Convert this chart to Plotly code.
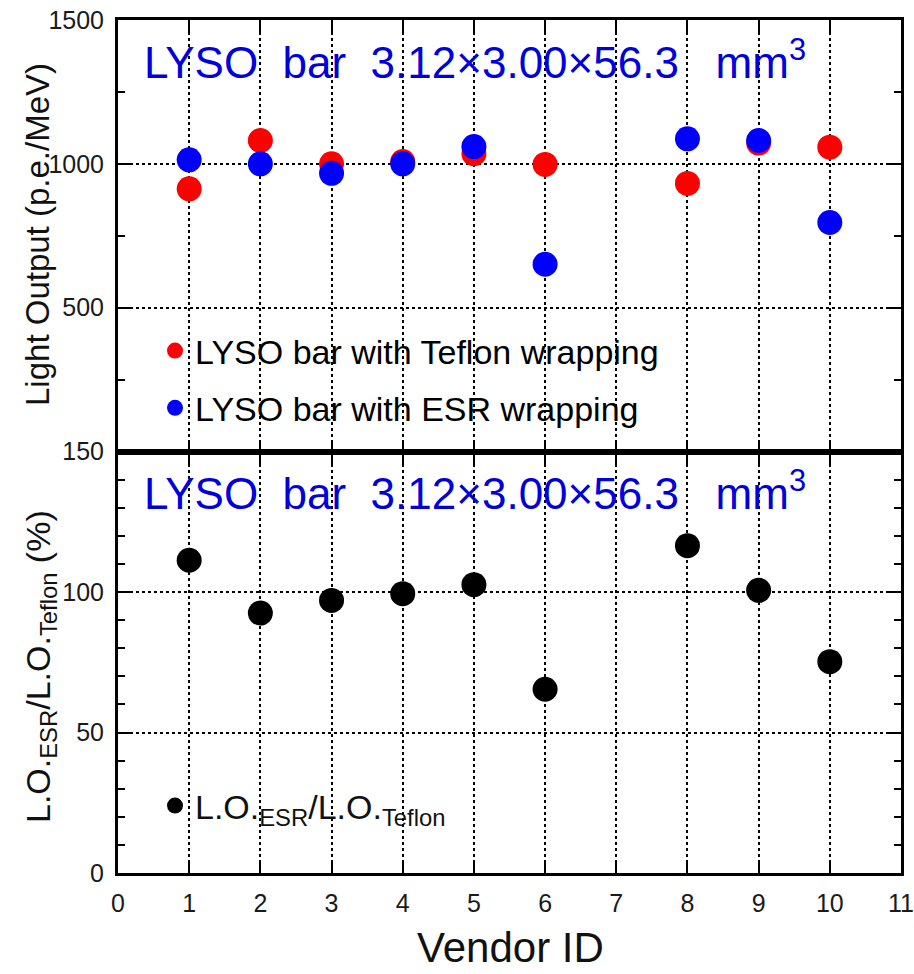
import plotly.graph_objects as go

vendors = [1, 2, 3, 4, 5, 6, 8, 9, 10]
lo_teflon = [913, 1081, 1000, 1008, 1035, 998, 932, 1072, 1058]
lo_esr = [1014, 1000, 967, 1000, 1060, 651, 1087, 1081, 796]
ratio_pct = [111.3, 92.5, 97.0, 99.4, 102.6, 65.4, 116.5, 100.6, 75.2]

x_ticks = list(range(0, 12))
top_ticks = [500, 1000, 1500]
bot_ticks = [0, 50, 100, 150]

FONT = "Arial, 'Liberation Sans', sans-serif"
BLUE_TXT = "#0000dd"

# plot-area geometry (pixels)
L, R, T, B = 118, 901, 20, 873
W, H = R - L, B - T


def px(xp):
    return (xp - L) / W


def py(yp):
    return (B - yp) / H


fig = go.Figure()
fig.add_trace(go.Scatter(x=vendors, y=lo_teflon, mode="markers", xaxis="x2", yaxis="y2",
                         name="LYSO bar with Teflon wrapping", legend="legend", legendgroup="a",
                         marker=dict(color="#ff0000", size=25)))
fig.add_trace(go.Scatter(x=vendors, y=lo_esr, mode="markers", xaxis="x2", yaxis="y2",
                         name="LYSO bar with ESR wrapping", legend="legend", legendgroup="b",
                         marker=dict(color="#0000ff", size=25)))
fig.add_trace(go.Scatter(x=vendors, y=ratio_pct, mode="markers", xaxis="x", yaxis="y",
                         name="L.O.<sub>ESR</sub>/L.O.<sub>Teflon</sub>", legend="legend2",
                         marker=dict(color="#000000", size=25)))

split = py(451.5)
axis_common = dict(showline=True, linewidth=3, linecolor="black", mirror="ticks",
                   ticks="inside", tickcolor="black", tickwidth=2, automargin=False,
                   showgrid=True, gridcolor="black", griddash="dot", gridwidth=1.5,
                   zeroline=False, tickfont=dict(family=FONT, size=25, color="#1a1a1a"))

fig.update_layout(
    width=914, height=974,
    margin=dict(l=L, r=914 - R, t=T, b=974 - B, autoexpand=False),
    paper_bgcolor="white", plot_bgcolor="white",
    font=dict(family=FONT, color="black"),
    xaxis=dict(domain=[0, 1], anchor="y", range=[0, 11], tickvals=x_ticks, ticklen=12,
               ticklabelstandoff=6, **axis_common),
    xaxis2=dict(domain=[0, 1], anchor="y2", range=[0, 11], tickvals=x_ticks, ticklen=12,
                showticklabels=False, **axis_common),
    yaxis=dict(domain=[0, split], anchor="x", range=[0, 150], tickvals=bot_ticks, ticklen=14,
               minor=dict(dtick=10, tick0=0, ticks="inside", ticklen=7, tickcolor="black", tickwidth=2, showgrid=False),
               ticklabelstandoff=6, **axis_common),
    yaxis2=dict(domain=[split, 1], anchor="x2", range=[0, 1500], tickvals=top_ticks, ticklen=14,
                minor=dict(dtick=250, tick0=0, ticks="inside", ticklen=7, tickcolor="black", tickwidth=2, showgrid=False),
                ticklabelstandoff=6, **axis_common),
    legend=dict(x=px(155), y=py(322), xanchor="left", yanchor="top",
                bgcolor="rgba(0,0,0,0)", font=dict(size=34, family=FONT), tracegroupgap=10,
                itemsizing="trace", traceorder="grouped"),
    legend2=dict(x=px(155), y=py(777), xanchor="left", yanchor="top",
                 bgcolor="rgba(0,0,0,0)", font=dict(size=34, family=FONT, color="#111"), itemsizing="trace"),
    showlegend=True,
)

title_txt = "LYSO\u00a0\u00a0bar\u00a0\u00a03.12\u00d73.00\u00d756.3\u00a0\u00a0\u00a0mm<sup>3</sup>"
for ypix in (60, 490):
    fig.add_annotation(text=title_txt, xref="paper", yref="paper", x=px(142),
                       y=py(ypix), xanchor="left", yanchor="middle", showarrow=False,
                       font=dict(size=44, color=BLUE_TXT, family=FONT))

# axis titles
fig.add_annotation(text="Light Output (p.e./MeV)", xref="paper", yref="paper", x=px(37), y=py(235),
                   xanchor="center", yanchor="middle", textangle=-90, showarrow=False,
                   font=dict(size=33, color="#111", family=FONT))
fig.add_annotation(text="L.O.<sub>ESR</sub>/L.O.<sub>Teflon</sub> (%)", xref="paper", yref="paper",
                   x=px(40), y=py(667), xanchor="center", yanchor="middle", textangle=-90,
                   showarrow=False, font=dict(size=34, color="#111", family=FONT))
fig.add_annotation(text="Vendor ID", xref="paper", yref="paper", x=px(510), y=py(947),
                   xanchor="center", yanchor="middle", showarrow=False,
                   font=dict(size=42, color="#111", family=FONT))

fig.write_html("out.html")
